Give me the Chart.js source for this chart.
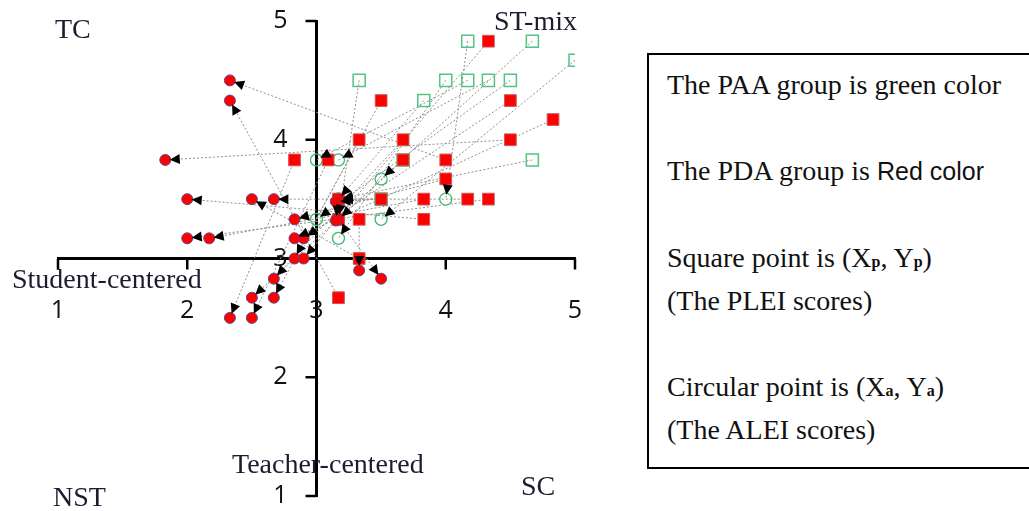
<!DOCTYPE html>
<html>
<head>
<meta charset="utf-8">
<script src="https://cdn.jsdelivr.net/npm/chart.js@4.4.0/dist/chart.umd.min.js"></script>
<style>
  body { margin: 0; background: #fff; width: 1029px; height: 511px; overflow: hidden; position: relative; font-family: "Liberation Serif", "Times New Roman", serif; }
  #wrap { position: absolute; left: 0; top: 0; width: 640px; height: 511px; }
  .lbl { position: absolute; font-size: 28px; line-height: 1; color: #1c1c30; white-space: nowrap; }
  #key { position: absolute; left: 647px; top: 53px; width: 420px; height: 412px; border: 2px solid #000; border-right: none; }
  .key { position: absolute; left: 667px; font-size: 28px; line-height: 1; color: #111; white-space: nowrap; }
  .sans { font-family: "Liberation Sans", Arial, sans-serif; font-size: 25px; }
  .sub { font-size: 16px; font-weight: bold; }
</style>
</head>
<body>
<div id="wrap"><canvas id="chart" width="640" height="511"></canvas></div>

<div class="lbl" style="left:55px; top:15px;">TC</div>
<div class="lbl" style="left:494px; top:7px;">ST-mix</div>
<div class="lbl" style="left:12px; top:265px;">Student-centered</div>
<div class="lbl" style="left:232px; top:450px;">Teacher-centered</div>
<div class="lbl" style="left:53px; top:483px;">NST</div>
<div class="lbl" style="left:521px; top:472px;">SC</div>

<div id="key"></div>
<div class="key" style="top:71px;">The PAA group is green color</div>
<div class="key" style="top:157px;">The PDA group is <span class="sans">Red color</span></div>
<div class="key" style="top:244px;">Square point is (X<span class="sub">p</span>, Y<span class="sub">p</span>)</div>
<div class="key" style="top:287px;">(The PLEI scores)</div>
<div class="key" style="top:373px;">Circular point is (X<span class="sub">a</span>, Y<span class="sub">a</span>)</div>
<div class="key" style="top:416px;">(The ALEI scores)</div>

<script>
// axis ticks (both axes cross at 3)
const tickValues = [1, 2, 3, 4, 5];
const tickLabels = ["1", "2", "3", "4", "5"];
const crossAt = 3;

// PDA group (red): PLEI squares, ALEI circles, same index = same pair
const pdaPleiX = [4.0, 3.17, 4.5, 3.83, 3.33, 4.17, 4.0, 4.33, 3.83, 4.83, 4.5, 3.5, 4.33, 3.67, 3.33, 3.17, 3.67, 3.33, 2.83, 3.09, 3.5, 3.17];
const pdaPleiY = [3.83, 2.67, 4.0, 3.33, 3.0, 3.5, 3.67, 3.5, 3.5, 4.17, 4.33, 4.33, 4.83, 4.0, 3.33, 3.33, 3.83, 4.0, 3.83, 3.83, 3.5, 3.5];
const pdaAleiX = [2.33, 2.33, 1.83, 2.0, 2.5, 2.67, 2.83, 2.0, 2.17, 2.83, 2.9, 2.83, 2.9, 2.67, 3.33, 3.5, 2.5, 2.67, 2.33, 2.5, 3.15, 3.15];
const pdaAleiY = [4.5, 4.33, 3.83, 3.5, 3.5, 3.5, 3.33, 3.17, 3.17, 3.17, 3.17, 3.0, 3.0, 2.83, 2.9, 2.83, 2.67, 2.67, 2.5, 2.5, 3.48, 3.32];

// PAA group (green)
const paaPleiX = [4.17, 4.67, 5.0, 3.33, 4.0, 4.17, 4.33, 4.5, 3.83, 4.67, 3.67, 3.5];
const paaPleiY = [4.83, 4.83, 4.67, 4.5, 4.5, 4.5, 4.5, 4.5, 4.33, 3.83, 3.83, 3.5];
const paaAleiX = [4.0, 3.5, 3.5, 3.17, 3.17, 3.0, 3.17, 3.0, 3.17, 3.17, 3.17, 3.17];
const paaAleiY = [3.5, 3.67, 3.33, 3.33, 3.17, 3.83, 3.83, 3.33, 3.5, 3.5, 3.33, 3.5];

function pts(xs, ys) {
  return xs.map((x, i) => ({ x: x, y: ys[i] }));
}

const pairs = [
  [pdaPleiX, pdaPleiY, pdaAleiX, pdaAleiY],
  [paaPleiX, paaPleiY, paaAleiX, paaAleiY]
];

const axisFont = "25px 'Open Sans', 'Liberation Sans', sans-serif";

// tick marks and numbers on the crossing axes
const axisPlugin = {
  id: "axisTicks",
  beforeDatasetsDraw(chart) {
    const { ctx, scales: { x, y } } = chart;
    const x0 = x.getPixelForValue(crossAt);
    const y0 = y.getPixelForValue(crossAt);
    ctx.save();
    ctx.strokeStyle = "#000";
    ctx.lineWidth = 2.5;
    ctx.fillStyle = "#111";
    ctx.font = axisFont;
    ctx.textBaseline = "middle";
    tickValues.forEach((v, i) => {
      const px = x.getPixelForValue(v);
      const py = y.getPixelForValue(v);
      ctx.beginPath();
      ctx.moveTo(px, y0);
      ctx.lineTo(px, y0 + 11);
      ctx.moveTo(x0, py);
      ctx.lineTo(x0 - 11, py);
      ctx.stroke();
      ctx.textAlign = "center";
      ctx.fillText(tickLabels[i], px, y0 + 52);
      ctx.textAlign = "right";
      ctx.fillText(tickLabels[i], x0 - 29, py);
    });
    ctx.restore();
  }
};

// dotted link from PLEI square to ALEI circle, arrowhead at the circle
const arrowPlugin = {
  id: "arrows",
  beforeDatasetsDraw(chart) {
    const { ctx, scales: { x, y } } = chart;
    ctx.save();
    ctx.strokeStyle = "#8f8f8f";
    ctx.lineWidth = 1;
    ctx.setLineDash([2, 2]);
    pairs.forEach(([px, py, ax, ay]) => {
      px.forEach((v, i) => {
        ctx.beginPath();
        ctx.moveTo(x.getPixelForValue(v), y.getPixelForValue(py[i]));
        ctx.lineTo(x.getPixelForValue(ax[i]), y.getPixelForValue(ay[i]));
        ctx.stroke();
      });
    });
    ctx.restore();
  },
  afterDatasetsDraw(chart) {
    const { ctx, scales: { x, y } } = chart;
    ctx.save();
    ctx.fillStyle = "#000";
    pairs.forEach(([px, py, ax, ay]) => {
      px.forEach((v, i) => {
        const x1 = x.getPixelForValue(v), y1 = y.getPixelForValue(py[i]);
        const x2 = x.getPixelForValue(ax[i]), y2 = y.getPixelForValue(ay[i]);
        const len = Math.hypot(x1 - x2, y1 - y2);
        if (len < 12) return;
        const ux = (x1 - x2) / len, uy = (y1 - y2) / len;
        const tx = x2 + ux * 4.5, ty = y2 + uy * 4.5;
        const bx = tx + ux * 10, by = ty + uy * 10;
        ctx.beginPath();
        ctx.moveTo(tx, ty);
        ctx.lineTo(bx - uy * 5, by + ux * 5);
        ctx.lineTo(bx + uy * 5, by - ux * 5);
        ctx.closePath();
        ctx.fill();
      });
    });
    ctx.restore();
  }
};

function crossScale(pos) {
  return {
    type: "linear",
    min: 1,
    max: 5,
    position: pos,
    afterFit: (s) => { s.width = 0; s.height = 0; s.paddingLeft = 0; s.paddingRight = 0; s.paddingTop = 0; s.paddingBottom = 0; },
    grid: { display: false },
    border: { display: true, color: "#000", width: 3 },
    ticks: { display: false }
  };
}

new Chart(document.getElementById("chart"), {
  type: "scatter",
  data: {
    datasets: [
      {
        label: "PDA ALEI",
        data: pts(pdaAleiX, pdaAleiY),
        pointStyle: "circle",
        pointRadius: 5.5,
        backgroundColor: "#ff0000",
        borderColor: "#5a4a8a",
        borderWidth: 1
      },
      {
        label: "PDA PLEI",
        data: pts(pdaPleiX, pdaPleiY),
        pointStyle: "rect",
        pointRadius: 8.3,
        backgroundColor: "#ff0000",
        borderColor: "#c85a5a",
        borderWidth: 1
      },
      {
        label: "PAA ALEI",
        data: pts(paaAleiX, paaAleiY),
        pointStyle: "circle",
        pointRadius: 6,
        backgroundColor: "rgba(255,255,255,0)",
        borderColor: "#3fb870",
        borderWidth: 1.3
      },
      {
        label: "PAA PLEI",
        data: pts(paaPleiX, paaPleiY),
        pointStyle: "rect",
        pointRadius: 8.5,
        backgroundColor: "rgba(255,255,255,0)",
        borderColor: "#52c483",
        borderWidth: 1.5
      }
    ]
  },
  options: {
    responsive: false,
    animation: false,
    devicePixelRatio: 1,
    layout: { padding: { left: 58, right: 65, top: 21, bottom: 15 } },
    plugins: { legend: { display: false }, tooltip: { enabled: false } },
    scales: {
      x: crossScale({ y: crossAt }),
      y: crossScale({ x: crossAt })
    }
  },
  plugins: [axisPlugin, arrowPlugin]
});
</script>
</body>
</html>
